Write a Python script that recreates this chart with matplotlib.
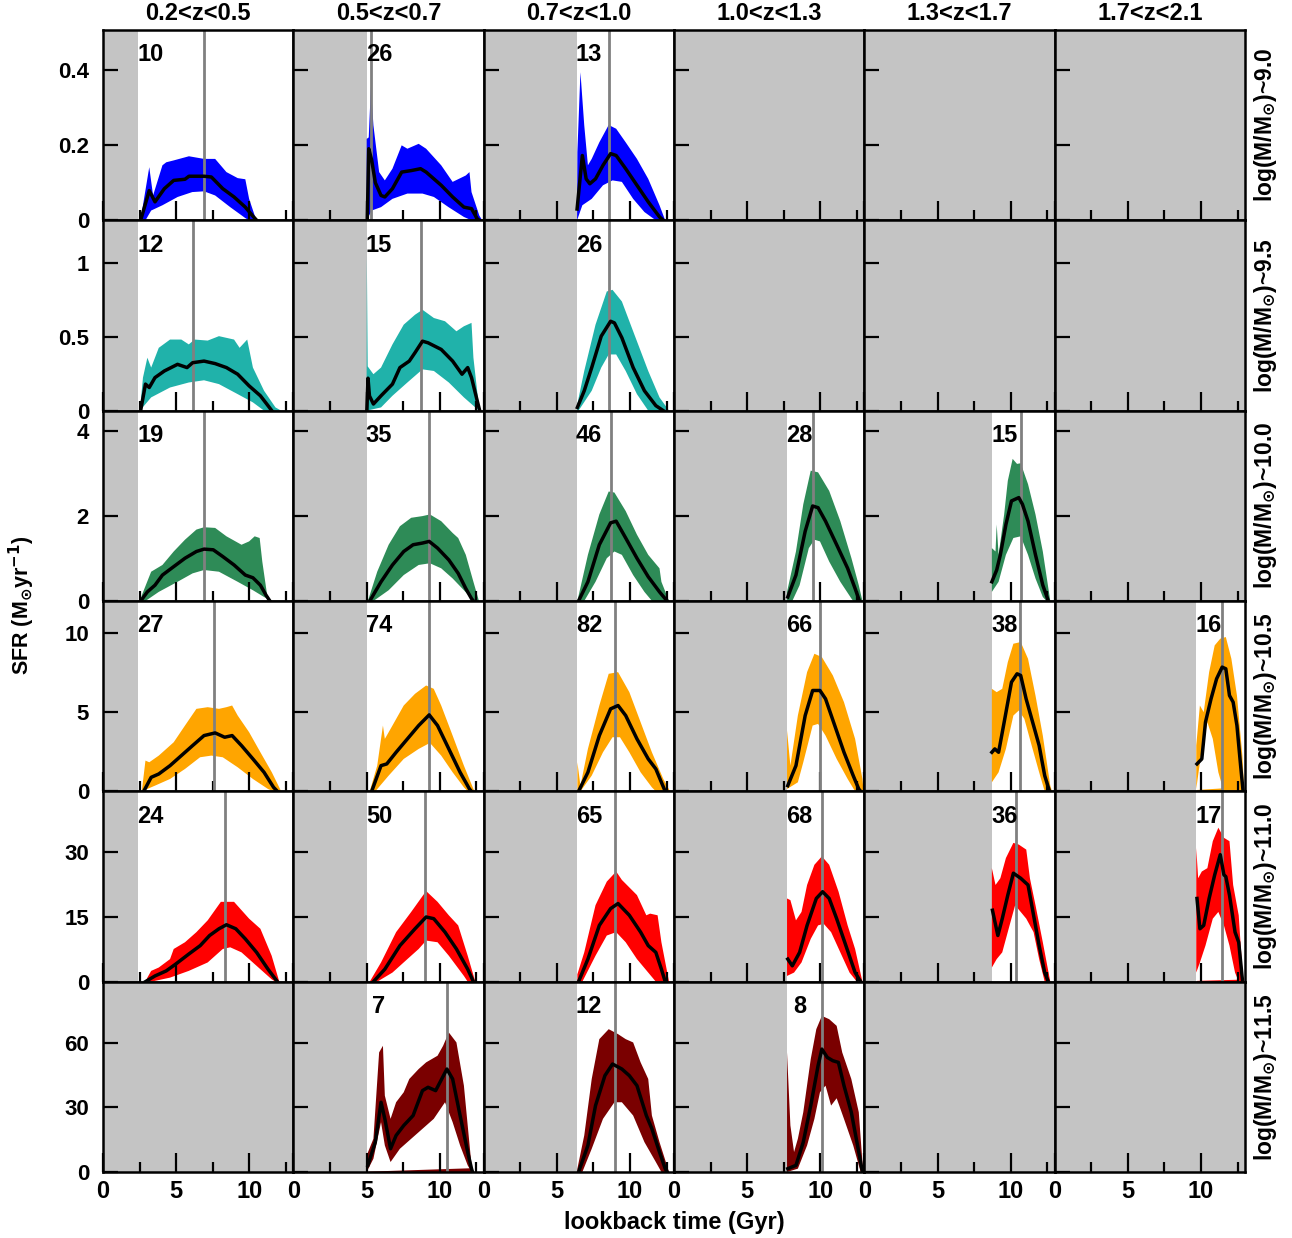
import matplotlib.pyplot as plt
import numpy as np

plt.rcParams['font.family'] = ['Liberation Sans', 'DejaVu Sans']
plt.rcParams['font.weight'] = 'bold'
plt.rcParams['mathtext.default'] = 'bf'

# bins
zbins = ['0.2<z<0.5', '0.5<z<0.7', '0.7<z<1.0', '1.0<z<1.3', '1.3<z<1.7', '1.7<z<2.1']
masses = ['9.0', '9.5', '10.0', '10.5', '11.0', '11.5']
colors = ['#0000ff', '#20b2aa', '#2e8b57', '#ffa500', '#ff0000', '#7a0000']
t_zlow = [2.4, 5.0, 6.35, 7.72, 8.71, 9.67]   # lookback time of lower z edge
ymax = [0.505, 1.29, 4.49, 12.04, 43.9, 88.5]
yticks = [[0, 0.2, 0.4], [0, 0.5, 1], [0, 2, 4], [0, 5, 10], [0, 15, 30], [0, 30, 60]]
ylabels = [['0', '0.2', '0.4'], ['0', '0.5', '1'], ['0', '2', '4'],
           ['0', '5', '10'], ['0', '15', '30'], ['0', '30', '60']]

counts = [[10, 26, 13, None, None, None],
          [12, 15, 26, None, None, None],
          [19, 35, 46, 28, 15, None],
          [27, 74, 82, 66, 38, 16],
          [24, 50, 65, 68, 36, 17],
          [None, 7, 12, 8, None, None]]

t_median = [[6.87, 5.3, 8.57, None, None, None],
            [6.16, 8.71, 8.57, None, None, None],
            [6.87, 9.25, 8.71, 9.5, 10.7, None],
            [7.59, 9.25, 8.96, 10.0, 10.6, 11.4],
            [8.35, 8.99, 8.96, 10.1, 10.34, 11.4],
            [None, 10.5, 8.96, 10.1, None, None]]

# SFH curves (lookback time [Gyr], SFR): median, upper and lower envelope
r1c1_med = [(2.57,0),(3.16,0.079),(3.55,0.049),(4.19,0.084),(4.83,0.106),(5.6,0.109),(5.87,0.117),(6.9,0.117),(7.4,0.115),(8.18,0.084),(8.95,0.062),(9.72,0.035),(10.24,0.011),(10.5,0)]
r1c1_hi = [(2.57,0),(2.73,0.04),(3.16,0.141),(3.42,0.066),(4.06,0.146),(4.32,0.154),(4.83,0.159),(5.87,0.170),(6.9,0.163),(7.66,0.163),(8.43,0.128),(9.2,0.112),(9.72,0.109),(9.98,0.057),(10.36,0.013),(10.5,0)]
r1c1_lo = [(2.57,0),(2.9,0),(3.29,0.026),(4.06,0.04),(5.1,0.062),(6.1,0.075),(6.9,0.077),(7.66,0.066),(8.69,0.035),(9.72,0.006),(9.98,0),(10.5,0)]

r1c2_med = [(5.05,0.0),(5.15,0.19),(5.35,0.16),(5.6,0.10),(5.99,0.066),(6.25,0.062),(6.77,0.084),(7.4,0.128),(8.05,0.132),(8.69,0.137),(9.07,0.128),(10.1,0.093),(10.88,0.062),(11.65,0.035),(12.17,0.031),(12.56,0.004),(12.7,0)]
r1c2_hi = [(5.01,0.0),(5.01,0.216),(5.15,0.22),(5.3,0.355),(5.47,0.252),(5.86,0.128),(6.25,0.106),(6.77,0.137),(7.4,0.199),(7.79,0.19),(8.56,0.203),(9.07,0.19),(10.1,0.146),(10.88,0.102),(11.78,0.119),(12.03,0.128),(12.17,0.075),(12.7,0.013),(12.9,0)]
r1c2_lo = [(5.01,0),(5.35,0.026),(5.99,0.035),(6.77,0.057),(7.79,0.071),(8.82,0.071),(9.6,0.062),(10.6,0.035),(11.65,0.009),(12.17,0),(12.9,0)]

r1c3_med = [(6.38,0.03),(6.74,0.172),(7.0,0.11),(7.25,0.097),(7.64,0.11),(8.15,0.146),(8.67,0.177),(9.05,0.172),(9.7,0.137),(10.47,0.093),(11.24,0.049),(12.01,0.009),(12.27,0)]
r1c3_hi = [(6.38,0.0),(6.4,0.181),(6.61,0.393),(6.87,0.252),(7.12,0.146),(7.38,0.163),(7.9,0.207),(8.54,0.253),(9.05,0.243),(9.7,0.207),(10.47,0.163),(11.24,0.11),(12.01,0.04),(12.4,0)]
r1c3_lo = [(6.38,0),(6.74,0.04),(7.38,0.057),(8.15,0.093),(8.8,0.106),(9.44,0.102),(10.21,0.057),(10.98,0.022),(11.76,0),(12.4,0)]

r2c1_med = [(2.57,0),(2.9,0.18),(3.16,0.157),(3.55,0.224),(4.19,0.269),(5.09,0.314),(5.74,0.292),(6.12,0.325),(6.9,0.336),(7.66,0.319),(8.43,0.292),(9.2,0.247),(9.98,0.168),(10.75,0.101),(11.27,0.034),(11.53,0)]
r2c1_hi = [(2.52,0),(2.73,0.224),(3.03,0.359),(3.29,0.292),(3.81,0.426),(4.58,0.482),(5.35,0.482),(5.86,0.449),(6.25,0.482),(7.15,0.475),(7.92,0.505),(8.95,0.482),(9.33,0.426),(9.85,0.482),(10.24,0.292),(11.0,0.135),(11.78,0.022),(12.17,0)]
r2c1_lo = [(2.52,0),(3.29,0.09),(4.58,0.157),(5.86,0.191),(6.9,0.206),(7.92,0.18),(9.2,0.112),(10.24,0.056),(11.0,0),(12.17,0)]

r2c2_med = [(5.02,0),(5.1,0.22),(5.2,0.1),(5.47,0.045),(5.99,0.101),(6.77,0.18),(7.28,0.292),(7.92,0.336),(8.31,0.393),(8.82,0.471),(9.2,0.46),(10.1,0.415),(10.88,0.336),(11.52,0.247),(11.91,0.292),(12.17,0.224),(12.56,0.067),(12.73,0)]
r2c2_hi = [(5.0,0),(5.02,1.05),(5.08,0.3),(5.47,0.247),(5.99,0.292),(6.77,0.449),(7.54,0.583),(8.31,0.65),(8.82,0.684),(9.6,0.628),(10.36,0.606),(11.14,0.538),(11.65,0.572),(12.17,0.595),(12.3,0.359),(12.68,0.022),(12.8,0)]
r2c2_lo = [(5.0,0),(5.99,0.022),(6.77,0.101),(7.79,0.191),(8.82,0.28),(9.6,0.269),(10.62,0.191),(11.65,0.09),(12.43,0.022),(12.68,0),(12.8,0)]

r2c3_med = [(6.4,0.022),(6.87,0.135),(7.38,0.292),(8.03,0.505),(8.67,0.606),(8.93,0.595),(9.44,0.494),(10.21,0.292),(10.98,0.135),(11.76,0.034),(12.27,0)]
r2c3_hi = [(6.38,0),(6.4,0.045),(6.87,0.269),(7.64,0.583),(8.41,0.808),(8.8,0.819),(9.44,0.74),(10.21,0.538),(11.24,0.269),(12.01,0.09),(12.66,0)]
r2c3_lo = [(6.38,0),(6.48,0),(7.38,0.135),(8.03,0.292),(8.54,0.381),(9.05,0.381),(9.7,0.269),(10.47,0.112),(11.24,0),(12.66,0)]

r3c1_med = [(2.57,0),(3.03,0.215),(3.55,0.373),(4.06,0.612),(4.83,0.811),(5.6,1.009),(6.38,1.168),(6.9,1.224),(7.53,1.208),(8.18,1.049),(8.95,0.85),(9.72,0.612),(10.24,0.548),(10.75,0.373),(11.14,0.135),(11.4,0)]
r3c1_hi = [(2.57,0),(2.65,0.135),(3.29,0.691),(4.06,0.85),(4.83,1.168),(5.6,1.446),(6.38,1.685),(6.9,1.74),(7.66,1.724),(8.43,1.526),(9.46,1.327),(9.98,1.406),(10.36,1.526),(10.7,1.486),(10.88,0.93),(11.27,0),(11.53,0)]
r3c1_lo = [(2.57,0),(2.9,0),(3.81,0.215),(5.09,0.453),(6.12,0.652),(6.9,0.731),(7.92,0.691),(9.2,0.453),(10.24,0.254),(11.0,0.095),(11.53,0)]

r3c2_med = [(5.22,0),(5.99,0.453),(6.77,0.85),(7.54,1.168),(8.18,1.327),(8.82,1.367),(9.28,1.406),(9.85,1.248),(10.62,0.969),(11.26,0.652),(11.78,0.294),(12.17,0.056),(12.3,0)]
r3c2_hi = [(5.09,0),(5.73,0.691),(6.51,1.327),(7.28,1.764),(8.05,1.963),(8.82,2.003),(9.33,2.042),(10.1,1.883),(10.88,1.605),(11.26,1.486),(11.78,1.089),(12.3,0.453),(12.68,0)]
r3c2_lo = [(5.09,0),(5.47,0),(6.51,0.254),(7.54,0.612),(8.56,0.85),(9.33,0.89),(10.1,0.771),(10.88,0.532),(11.65,0.254),(12.17,0.056),(12.43,0),(12.68,0)]

r3c3_med = [(6.48,0),(7.12,0.453),(7.9,1.327),(8.67,1.844),(9.05,1.883),(9.7,1.486),(10.47,1.009),(11.24,0.572),(12.01,0.215),(12.53,0)]
r3c3_hi = [(6.4,0),(7.12,1.089),(7.9,2.042),(8.54,2.583),(8.93,2.559),(9.7,2.122),(10.47,1.565),(11.24,1.089),(12.01,0.771),(12.14,0.453),(12.66,0)]
r3c3_lo = [(6.4,0),(6.87,0),(7.64,0.453),(8.41,1.009),(8.93,1.168),(9.44,1.089),(10.21,0.612),(10.98,0.215),(11.5,0),(12.66,0)]

r3c4_med = [(7.77,0.095),(8.33,0.612),(8.96,1.645),(9.47,2.241),(9.84,2.201),(10.35,1.883),(11.11,1.327),(11.86,0.771),(12.37,0.294),(12.67,0)]
r3c4_hi = [(7.72,0),(7.72,0.215),(8.33,1.168),(8.83,2.281),(9.34,3.075),(9.84,3.035),(10.6,2.598),(11.36,1.883),(12.12,1.009),(12.62,0.373),(12.87,0)]
r3c4_lo = [(7.72,0),(8.08,0),(8.58,0.373),(9.21,1.248),(9.59,1.446),(9.97,1.406),(10.6,0.93),(11.36,0.453),(12.12,0.056),(12.24,0),(12.87,0)]

r3c5_med = [(8.71,0.453),(9.04,0.731),(9.29,1.089),(9.67,1.804),(10.05,2.36),(10.3,2.4),(10.55,2.439),(10.8,2.281),(11.18,1.883),(11.69,1.089),(12.19,0.373),(12.57,0)]
r3c5_hi = [(8.71,0.215),(8.71,1.248),(8.96,1.168),(9.04,1.804),(9.17,1.089),(9.55,2.042),(9.8,2.837),(10.13,3.353),(10.43,3.234),(10.68,3.25),(11.18,2.757),(11.69,2.042),(12.19,1.168),(12.7,0)]
r3c5_lo = [(8.71,0.215),(9.17,0.453),(9.67,1.089),(10.18,1.486),(10.68,1.526),(11.18,1.089),(11.69,0.532),(12.19,0.095),(12.44,0),(12.7,0)]

r4c1_med = [(2.78,0),(3.29,0.887),(3.81,1.098),(4.58,1.626),(5.35,2.26),(6.12,2.894),(6.9,3.527),(7.66,3.696),(8.31,3.422),(8.82,3.527),(9.46,2.894),(10.24,2.049),(11.0,1.204),(11.65,0.253),(11.91,0)]
r4c1_hi = [(2.65,0),(2.9,1.943),(3.16,1.838),(3.81,2.26),(4.83,3.105),(5.6,4.161),(6.38,5.217),(7.15,5.323),(7.92,5.217),(8.43,5.323),(8.82,5.429),(9.2,4.795),(9.98,3.739),(10.75,2.471),(11.53,1.204),(12.17,0)]
r4c1_lo = [(2.65,0),(3.55,0.359),(4.58,0.782),(5.6,1.415),(6.63,2.155),(7.4,2.26),(8.18,2.155),(9.2,1.521),(10.24,0.782),(11.27,0.148),(11.65,0),(12.17,0)]

r4c2_med = [(5.35,0),(5.99,1.626),(6.38,1.732),(7.02,2.471),(7.79,3.316),(8.56,4.161),(9.28,4.837),(9.85,4.161),(10.62,2.683),(11.39,1.204),(12.03,0.148),(12.17,0)]
r4c2_hi = [(5.22,0),(5.73,1.626),(6.12,4.161),(6.25,3.316),(6.77,4.161),(7.54,5.429),(8.31,6.168),(9.07,6.696),(9.59,6.485),(10.1,5.429),(10.88,3.527),(11.65,1.626),(12.3,0.148),(12.43,0)]
r4c2_lo = [(5.22,0),(5.6,0),(6.51,0.993),(7.54,2.049),(8.56,2.683),(9.33,3.063),(10.1,2.26),(10.88,1.204),(11.65,0.253),(11.91,0),(12.43,0)]

r4c3_med = [(6.48,0),(7.12,1.204),(7.9,3.527),(8.67,5.217),(9.18,5.429),(9.7,4.795),(10.47,3.316),(11.24,2.049),(11.76,1.415),(12.14,0.57),(12.4,0)]
r4c3_hi = [(6.4,0),(6.4,1.838),(6.61,0.359),(7.12,2.683),(7.9,5.429),(8.54,7.435),(9.18,7.541),(9.95,6.274),(10.72,4.372),(11.49,2.471),(12.27,0.782),(12.73,0)]
r4c3_lo = [(6.4,0),(6.61,0),(7.38,0.993),(8.15,2.471),(8.8,3.422),(9.31,3.422),(9.95,2.471),(10.72,1.204),(11.49,0.253),(11.76,0),(12.73,0)]

r4c4_med = [(7.77,0.359),(8.33,1.626),(8.96,4.795),(9.47,6.379),(9.97,6.379),(10.35,5.851),(10.98,4.161),(11.61,2.471),(12.24,0.993),(12.62,0.148),(12.75,0)]
r4c4_hi = [(7.72,0.148),(7.72,3.844),(7.95,1.626),(8.46,4.795),(9.09,7.541),(9.59,8.703),(10.1,8.492),(10.85,7.33),(11.61,5.64),(12.37,3.316),(12.87,0.782),(12.95,0)]
r4c4_lo = [(7.72,0.148),(8.46,0.57),(8.83,1.838),(9.47,4.161),(9.84,4.267),(10.35,3.527),(11.11,2.049),(11.86,0.782),(12.37,0),(12.95,0)]

r4c5_med = [(8.71,2.471),(8.91,2.683),(9.17,2.471),(9.55,4.372),(10.05,6.907),(10.43,7.435),(10.68,7.33),(11.05,5.851),(11.56,4.161),(11.94,2.894),(12.32,0.993),(12.65,0)]
r4c5_hi = [(8.71,0.57),(8.71,6.485),(9.04,6.274),(9.42,6.485),(9.8,8.175),(10.18,9.337),(10.68,9.443),(11.18,8.386),(11.69,6.062),(12.19,3.527),(12.7,0.359),(12.82,0)]
r4c5_lo = [(8.71,0.57),(9.17,1.204),(9.67,2.683),(10.18,4.795),(10.55,5.112),(10.93,4.584),(11.43,2.894),(11.94,1.204),(12.32,0),(12.82,0)]

r4c6_med = [(9.72,1.732),(10.05,2.049),(10.3,4.372),(10.68,5.851),(11.06,7.118),(11.44,7.858),(11.69,7.752),(11.94,6.062),(12.19,5.64),(12.45,4.161),(12.7,1.626),(12.87,0)]
r4c6_hi = [(9.67,0.148),(9.67,2.894),(9.92,5.429),(10.18,5.006),(10.55,7.541),(10.93,9.231),(11.31,9.654),(11.69,9.76),(12.07,8.386),(12.45,6.062),(12.82,2.26),(12.95,0)]
r4c6_lo = [(9.67,0.148),(10.05,2.683),(10.43,4.372),(10.8,3.316),(11.18,1.204),(11.44,0.359),(11.56,0),(12.95,0)]

r5c1_med = [(2.9,0),(3.55,1.321),(4.32,2.486),(4.96,4.04),(5.86,6.371),(6.64,8.314),(7.28,10.645),(7.92,12.199),(8.43,13.131),(9.07,12.199),(9.72,9.868),(10.49,6.76),(11.27,2.875),(11.91,0)]
r5c1_hi = [(2.9,0),(3.03,0.932),(3.29,2.486),(3.81,3.263),(4.58,5.206),(4.83,7.537),(5.6,9.091),(6.38,11.422),(7.15,14.141),(8.05,18.415),(8.95,18.415),(9.98,14.53),(10.75,12.199),(11.52,5.983),(12.04,0)]
r5c1_lo = [(2.9,0),(3.29,0),(4.58,0.932),(5.86,2.486),(7.15,4.429),(8.18,7.537),(8.69,7.925),(9.46,6.76),(10.49,3.652),(11.52,0.544),(11.78,0),(12.04,0)]

r5c2_med = [(5.47,0),(6.25,2.875),(7.28,8.314),(8.31,12.199),(9.07,14.918),(9.59,14.53),(10.36,11.422),(11.14,7.537),(11.91,2.875),(12.3,0)]
r5c2_hi = [(5.22,0),(5.99,4.429),(7.02,11.422),(8.05,16.084),(9.07,20.9),(9.85,18.415),(10.62,15.307),(11.26,12.976),(11.91,5.983),(12.43,0)]
r5c2_lo = [(5.22,0),(5.73,0),(6.77,2.098),(7.79,5.206),(8.56,7.537),(9.07,9.479),(9.85,9.091),(10.62,5.983),(11.65,1.321),(11.91,0),(12.43,0)]

r5c3_med = [(6.48,0),(7.12,5.206),(7.9,12.976),(8.67,16.861),(9.18,18.027),(9.95,15.307),(10.72,11.422),(11.24,8.314),(11.76,6.76),(12.14,2.875),(12.4,0)]
r5c3_hi = [(6.4,0),(6.4,1.709),(6.87,6.76),(7.64,17.638),(8.41,23.077),(9.05,25.408),(9.44,23.465),(10.47,19.968),(11.11,15.307),(11.37,15.695),(11.88,15.307),(12.14,9.091),(12.66,0)]
r5c3_lo = [(6.4,0),(6.74,0),(7.64,5.983),(8.41,10.645),(9.05,11.422),(9.7,9.091),(10.47,5.206),(11.24,2.098),(11.76,0),(12.66,0)]

r5c4_med = [(7.77,5.206),(8.08,3.652),(8.58,6.76),(9.09,12.976),(9.72,19.191),(10.15,20.745),(10.6,19.191),(11.11,14.53),(11.74,8.314),(12.37,2.098),(12.75,0)]
r5c4_hi = [(7.72,1.321),(7.72,19.191),(7.95,18.803),(8.33,14.141),(8.71,16.084),(9.09,22.3),(9.59,26.96),(10.1,28.9),(10.6,26.96),(11.24,20.745),(11.86,12.976),(12.37,7.537),(12.87,0)]
r5c4_lo = [(7.72,1.321),(8.2,2.098),(8.71,4.429),(9.34,9.868),(9.84,12.976),(10.22,13.364),(10.73,11.422),(11.36,6.76),(11.99,2.098),(12.49,0),(12.87,0)]

r5c5_med = [(8.75,16.472),(9.12,10.645),(9.42,14.53),(9.8,19.968),(10.18,25.02),(10.68,23.853),(11.18,22.3),(11.56,15.307),(11.94,8.314),(12.32,2.098),(12.57,0)]
r5c5_hi = [(8.71,3.263),(8.71,26.18),(8.96,22.3),(9.29,23.853),(9.67,28.51),(10.18,32.01),(10.55,31.62),(11.06,30.46),(11.31,23.853),(11.69,17.638),(12.19,9.091),(12.7,0)]
r5c5_lo = [(8.71,3.263),(9.04,5.206),(9.42,6.76),(9.92,12.976),(10.3,17.638),(10.68,16.084),(11.06,14.53),(11.56,11.422),(11.94,5.206),(12.32,0),(12.7,0)]

r5c6_med = [(9.72,19.191),(9.92,12.199),(10.18,12.976),(10.55,19.191),(10.93,24.63),(11.31,29.29),(11.56,24.63),(11.69,24.24),(11.94,19.968),(12.32,11.422),(12.57,9.091),(12.82,0.544)]
r5c6_hi = [(9.67,2.098),(9.67,30.85),(9.8,23.853),(10.05,25.41),(10.43,26.18),(10.8,32.4),(11.18,35.51),(11.56,33.18),(11.94,32.4),(12.19,22.3),(12.57,15.307),(12.87,0)]
r5c6_lo = [(9.67,2.098),(9.92,4.429),(10.3,8.314),(10.8,14.53),(11.18,16.084),(11.56,12.976),(11.94,8.314),(12.32,2.098),(12.57,0),(12.87,0)]

r6c2_med = [(5.09,3.089),(5.6,13.9),(5.99,32.43),(6.25,24.71),(6.64,10.81),(7.02,16.99),(7.54,21.62),(8.18,26.26),(8.82,37.84),(9.2,39.39),(9.72,37.84),(10.49,47.88),(10.88,43.25),(11.39,26.26),(11.91,9.27),(12.17,1.545),(12.24,0)]
r6c2_hi = [(5.01,0),(5.01,7.72),(5.47,15.45),(5.86,55.6),(6.12,58.69),(6.25,35.52),(6.64,24.71),(7.02,32.43),(7.54,37.07),(7.92,43.25),(8.56,47.88),(9.07,50.97),(9.85,54.06),(10.23,58.69),(10.62,64.87),(11.14,60.24),(11.65,40.16),(12.17,3.089),(12.3,0)]
r6c2_lo = [(5.01,0),(5.47,6.18),(5.99,23.17),(6.25,12.36),(6.64,4.63),(7.28,10.81),(8.05,15.45),(8.82,20.08),(9.59,24.71),(10.36,32.43),(10.88,23.17),(11.39,12.36),(11.91,3.089),(12.17,0),(12.3,0)]

r6c3_med = [(6.48,0),(7.12,12.36),(7.64,30.89),(8.28,44.8),(8.8,50.2),(9.44,47.88),(9.95,44.8),(10.47,40.16),(11.11,26.26),(11.49,20.08),(12.01,9.27),(12.4,1.545),(12.53,0)]
r6c3_hi = [(6.4,0),(6.4,1.545),(6.87,16.99),(7.38,43.25),(7.9,61.78),(8.54,66.41),(9.18,64.1),(9.7,61.78),(10.21,60.24),(10.72,50.97),(11.24,43.25),(11.49,26.26),(12.01,13.9),(12.66,0)]
r6c3_lo = [(6.4,0),(6.74,0),(7.38,10.81),(8.15,24.71),(8.93,32.43),(9.44,32.43),(10.21,26.26),(10.98,13.9),(11.76,4.63),(12.14,0),(12.66,0)]

r6c4_med = [(7.77,1.545),(8.33,3.089),(8.83,13.9),(9.34,30.89),(9.84,49.43),(10.1,57.15),(10.47,53.29),(10.85,51.74),(11.23,50.97),(11.61,40.16),(12.11,27.8),(12.62,9.27),(12.87,0)]
r6c4_hi = [(7.72,0),(7.72,55.6),(7.95,21.62),(8.2,9.27),(8.46,15.45),(8.83,27.8),(9.34,52.51),(9.72,66.41),(10.1,72.59),(10.6,71.05),(11.11,67.96),(11.49,55.6),(12.11,43.25),(12.62,27.8),(12.92,0)]
r6c4_lo = [(7.72,0),(8.46,1.545),(9.09,12.36),(9.59,24.71),(9.97,37.07),(10.35,40.16),(10.73,30.89),(11.11,34.29),(11.61,24.71),(12.24,12.36),(12.75,0),(12.92,0)]

# thin strips along the bottom seen in a few panels
r4c6_strip = [(9.7,0.12),(12.9,0.3)]
r5c6_strip = [(9.7,0.3),(12.9,0.6)]
r6c2_strip = [(5.1,0.4),(12.2,2.0)]

curves = {
    (0, 0): (r1c1_med, r1c1_hi, r1c1_lo), (0, 1): (r1c2_med, r1c2_hi, r1c2_lo),
    (0, 2): (r1c3_med, r1c3_hi, r1c3_lo),
    (1, 0): (r2c1_med, r2c1_hi, r2c1_lo), (1, 1): (r2c2_med, r2c2_hi, r2c2_lo),
    (1, 2): (r2c3_med, r2c3_hi, r2c3_lo),
    (2, 0): (r3c1_med, r3c1_hi, r3c1_lo), (2, 1): (r3c2_med, r3c2_hi, r3c2_lo),
    (2, 2): (r3c3_med, r3c3_hi, r3c3_lo), (2, 3): (r3c4_med, r3c4_hi, r3c4_lo),
    (2, 4): (r3c5_med, r3c5_hi, r3c5_lo),
    (3, 0): (r4c1_med, r4c1_hi, r4c1_lo), (3, 1): (r4c2_med, r4c2_hi, r4c2_lo),
    (3, 2): (r4c3_med, r4c3_hi, r4c3_lo), (3, 3): (r4c4_med, r4c4_hi, r4c4_lo),
    (3, 4): (r4c5_med, r4c5_hi, r4c5_lo), (3, 5): (r4c6_med, r4c6_hi, r4c6_lo),
    (4, 0): (r5c1_med, r5c1_hi, r5c1_lo), (4, 1): (r5c2_med, r5c2_hi, r5c2_lo),
    (4, 2): (r5c3_med, r5c3_hi, r5c3_lo), (4, 3): (r5c4_med, r5c4_hi, r5c4_lo),
    (4, 4): (r5c5_med, r5c5_hi, r5c5_lo), (4, 5): (r5c6_med, r5c6_hi, r5c6_lo),
    (5, 1): (r6c2_med, r6c2_hi, r6c2_lo), (5, 2): (r6c3_med, r6c3_hi, r6c3_lo),
    (5, 3): (r6c4_med, r6c4_hi, r6c4_lo),
}
strips = {(3, 5): r4c6_strip, (4, 5): r5c6_strip, (5, 1): r6c2_strip}

grey = '#c4c4c4'
tmax = 13.0

fig, axes = plt.subplots(6, 6, figsize=(12.92, 12.38), dpi=100)
fig.subplots_adjust(left=103/1292, right=1245/1292, top=1-30/1238, bottom=1-1172/1238,
                    wspace=0, hspace=0)

for i in range(6):
    for j in range(6):
        ax = axes[i, j]
        ax.set_xlim(0, tmax)
        ax.set_ylim(0, ymax[i])
        for s in ax.spines.values():
            s.set_linewidth(1.8)
        ax.set_xticks([0, 5, 10])
        ax.set_xticks([2.5, 7.5, 12.5], minor=True)
        ax.set_yticks(yticks[i])
        ax.tick_params(axis='x', which='major', direction='in', length=14, width=1.6,
                       top=False, labelsize=17, pad=6)
        ax.tick_params(axis='x', which='minor', direction='in', length=7, width=1.6, top=False)
        ax.tick_params(axis='y', which='major', direction='in', length=11, width=1.6,
                       right=False, labelsize=16, pad=10)
        if i == 5:
            ax.set_xticklabels(['0', '5', '10'])
        else:
            ax.set_xticklabels([])
        if j == 0:
            ax.set_yticklabels(ylabels[i])
        else:
            ax.set_yticklabels([])

        if (i, j) not in curves:
            ax.axvspan(0, tmax, color=grey, lw=0, zorder=0)
            continue
        ax.axvspan(0, t_zlow[j], color=grey, lw=0, zorder=0)

        med, hi, lo = curves[(i, j)]
        med = np.array(med)
        hi = np.array(hi)
        lo = np.array(lo)
        poly = np.vstack([hi, lo[::-1]])
        ax.fill(poly[:, 0], poly[:, 1], color=colors[i], lw=0, zorder=1)
        if (i, j) in strips:
            st = np.array(strips[(i, j)])
            ax.fill_between(st[:, 0], 0, st[:, 1], color=colors[i], lw=0, zorder=1)
        ax.axvline(t_median[i][j], color='#808080', lw=2, zorder=2)
        ax.plot(med[:, 0], med[:, 1], color='black', lw=2.5, zorder=3)
        ax.text(t_zlow[j] + 0.85, 0.87 * ymax[i], str(counts[i][j]), ha='center',
                va='center', fontsize=17, fontweight='bold', zorder=4)

for j in range(6):
    axes[0, j].set_title(zbins[j], fontsize=17, fontweight='bold', pad=7)

for i in range(6):
    axes[i, 5].text(1.11, 0.5, 'log(M/M$_{\\odot}$)~' + masses[i], transform=axes[i, 5].transAxes,
                    rotation=90, ha='center', va='center', fontsize=16.5, fontweight='bold')

fig.text(22/1292, 1-605/1238, 'SFR (M$_{\\odot}$yr$^{-1}$)', rotation=90, ha='center',
         va='center', fontsize=15.5, fontweight='bold')
fig.text(674/1292, 1-1222/1238, 'lookback time (Gyr)', ha='center', va='center',
         fontsize=17, fontweight='bold')

fig.savefig('out.png', dpi=100)
